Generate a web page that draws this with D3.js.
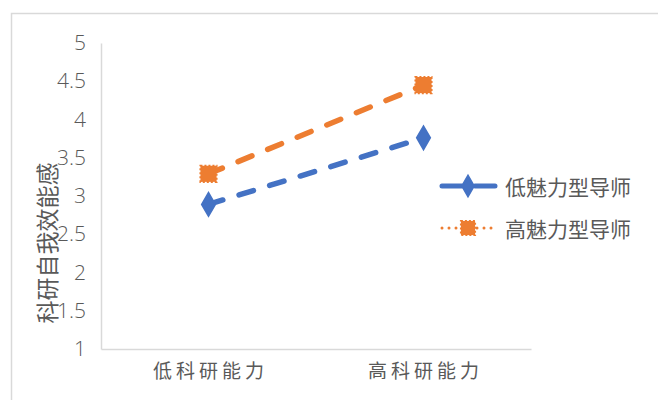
<!DOCTYPE html>
<html><head><meta charset="utf-8">
<script src="https://cdn.jsdelivr.net/npm/d3@7"></script>
<style>body{margin:0;background:#fff}svg{display:block}text{font-family:"Noto Sans CJK SC","Noto Sans",sans-serif}</style>
</head><body>
<svg id="c" width="658" height="400"></svg>
<script>
const categories = ["低科研能力", "高科研能力"];
const seriesNames = ["低魅力型导师", "高魅力型导师"];
const lowCharisma = [2.89, 3.76];
const highCharisma = [3.29, 4.45];
const yTicks = [1, 1.5, 2, 2.5, 3, 3.5, 4, 4.5, 5];
const yTitle = "科研自我效能感";

const svg = d3.select("#c");
const colors = ["#4472C4", "#ED7D31"];
const series = [lowCharisma, highCharisma];

// outer border
svg.append("rect").attr("x", 11.5).attr("y", 13.5).attr("width", 700).attr("height", 420)
  .attr("fill", "none").attr("stroke", "#d9d9d9").attr("stroke-width", 1.5);

const L = 101, R = 531, T = 43, B = 349;
const x = d3.scaleBand().domain(categories).range([L, R]);
const y = d3.scaleLinear().domain([1, 5]).range([B, T]);

// axes
const ya = svg.append("g").attr("transform", `translate(${L},0)`)
  .call(d3.axisLeft(y).tickValues(yTicks).tickSize(0).tickPadding(15).tickFormat(d3.format("")));
ya.select(".domain").attr("stroke", "#d9d9d9").attr("stroke-width", 1.5);
ya.selectAll("text").attr("fill", "#595959").style("font-size", "21px")
  .style("font-family", "'Open Sans','Noto Sans',sans-serif").style("font-weight", "300");

const xa = svg.append("g").attr("transform", `translate(0,${B})`)
  .call(d3.axisBottom(x).tickSize(0).tickPadding(16));
xa.select(".domain").attr("stroke", "#d9d9d9").attr("stroke-width", 1.5);
xa.selectAll("text").attr("fill", "#595959").style("font-size", "19px").style("letter-spacing", "4px").attr("dx", "2px");

// y title
svg.append("text").attr("transform", "translate(46,243) rotate(-90)")
  .attr("text-anchor", "middle").attr("dominant-baseline", "central")
  .attr("fill", "#595959").style("font-size", "23px").text(yTitle);

// lines
const line = d3.line().x((d, i) => x(categories[i]) + x.bandwidth() / 2).y(d => y(d));
series.forEach((s, k) => {
  svg.append("path").datum(s).attr("d", line).attr("fill", "none")
    .attr("stroke", colors[k]).attr("stroke-width", 5.5).attr("stroke-linecap", "round")
    .attr("stroke-dasharray", "15,17");
});
// markers
const diamond = d3.symbol().type(d3.symbolDiamond).size(150);
const square = d3.symbol().type(d3.symbolSquare).size(260);
series.forEach((s, k) => {
  svg.append("g").selectAll("path").data(s).join("path")
    .attr("d", k === 0 ? diamond : square)
    .attr("transform", (d, i) => `translate(${x(categories[i]) + x.bandwidth() / 2},${y(d)})`)
    .attr("fill", colors[k]).attr("stroke", colors[k]).attr("stroke-width", 2)
    .attr("stroke-dasharray", k === 1 ? "2,2" : null);
});

// legend
const lg = svg.append("g");
const rows = [186, 228];
const lDiamond = d3.symbol().type(d3.symbolDiamond).size(120);
const lSquare = d3.symbol().type(d3.symbolSquare).size(200);
seriesNames.forEach((n, k) => {
  const yy = rows[k];
  lg.append("line").attr("x1", 442).attr("x2", 496).attr("y1", yy).attr("y2", yy)
    .attr("stroke", colors[k]).attr("stroke-width", k === 0 ? 5 : 3)
    .attr("stroke-linecap", "round")
    .attr("stroke-dasharray", k === 0 ? "20,13" : "0,7");
  lg.append("path").attr("d", k === 0 ? lDiamond : lSquare)
    .attr("transform", `translate(468,${yy})`).attr("fill", colors[k])
    .attr("stroke", colors[k]).attr("stroke-width", 2).attr("stroke-dasharray", k === 1 ? "2,2" : null);
  lg.append("text").attr("x", 505).attr("y", yy).attr("dominant-baseline", "central")
    .attr("fill", "#595959").style("font-size", "21px").text(n);
});
</script>
</body></html>
